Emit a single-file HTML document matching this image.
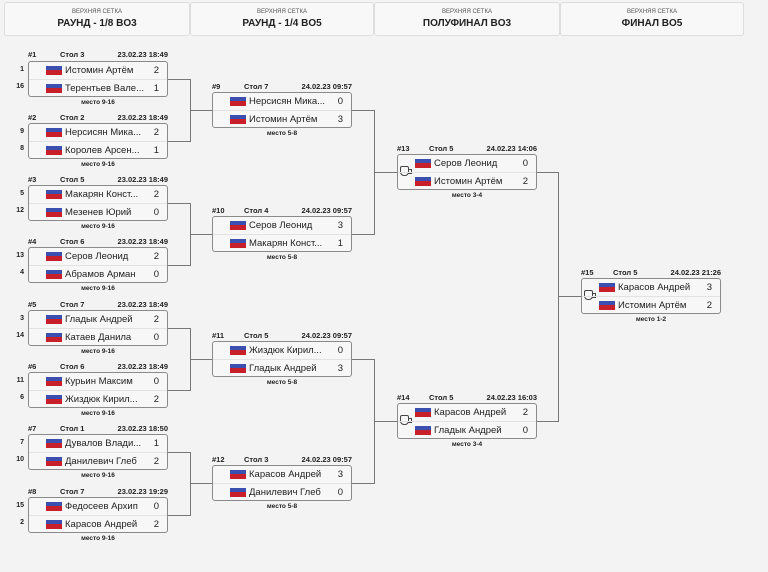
<!DOCTYPE html><html><head><meta charset="utf-8"><style>
body{margin:0;width:768px;height:572px;background:#f3f3f3;font-family:"Liberation Sans",sans-serif;position:relative;overflow:hidden;color:#222}
.col{position:absolute;top:2px;height:32px;background:#f8f8f8;border:1px solid #ddd;border-radius:3px;text-align:center}
.col .s{font-size:6px;color:#555;margin-top:6px}
.col .t{font-size:10px;font-weight:bold;margin-top:3px}
.hd{position:absolute;width:140px;height:10px;font-size:7.5px;font-weight:bold}
.hd span{position:absolute;top:0}
.bx{position:absolute;width:138px;height:34px;border:1px solid #8a8a8a;border-radius:3px;background:#f7f7f7}
.r{position:absolute;left:0;width:138px;height:17px;font-size:9.5px;line-height:17px}
.r i{position:absolute;left:17px;top:4px;width:16px;height:9px;background:linear-gradient(#3a4fb0 0 45%,#c8202a 45%)}
.r b{position:absolute;left:36px;font-weight:normal;white-space:nowrap}
.r u{position:absolute;right:8px;text-decoration:none}
.r2{top:17px;border-top:1px solid #e2e2e2}
.lb{position:absolute;width:140px;text-align:center;font-size:6.5px;font-weight:bold}
.sd{position:absolute;font-size:7px;font-weight:bold;width:14px;text-align:right}
.ln{position:absolute;background:#777}
.cup{position:absolute;left:2px;top:11px;width:9px;height:10px;border:1.5px solid #444;border-radius:2px 2px 4px 4px;box-sizing:border-box}
.cup:after{content:"";position:absolute;right:-4px;top:2px;width:3px;height:3px;border:1px solid #444;border-left:none}
</style></head><body>
<div class="col" style="left:4px;width:184px"><div class="s">ВЕРХНЯЯ СЕТКА</div><div class="t">РАУНД - 1/8 BO3</div></div>
<div class="col" style="left:190px;width:182px"><div class="s">ВЕРХНЯЯ СЕТКА</div><div class="t">РАУНД - 1/4 BO5</div></div>
<div class="col" style="left:374px;width:184px"><div class="s">ВЕРХНЯЯ СЕТКА</div><div class="t">ПОЛУФИНАЛ BO3</div></div>
<div class="col" style="left:560px;width:182px"><div class="s">ВЕРХНЯЯ СЕТКА</div><div class="t">ФИНАЛ BO5</div></div>

<!-- R1 -->
<div class="hd" style="left:28px;top:50px"><span style="left:0">#1</span><span style="left:32px">Стол 3</span><span style="right:0">23.02.23 18:49</span></div>
<div class="bx" style="left:28px;top:61px"><div class="r"><i></i><b>Истомин Артём</b><u>2</u></div><div class="r r2"><i></i><b>Терентьев Вале...</b><u>1</u></div></div>
<div class="lb" style="left:28px;top:99px">место 9-16</div>
<div class="sd" style="left:10px;top:66px">1</div><div class="sd" style="left:10px;top:83px">16</div>

<div class="hd" style="left:28px;top:113px"><span style="left:0">#2</span><span style="left:32px">Стол 2</span><span style="right:0">23.02.23 18:49</span></div>
<div class="bx" style="left:28px;top:123px"><div class="r"><i></i><b>Нерсисян Мика...</b><u>2</u></div><div class="r r2"><i></i><b>Королев Арсен...</b><u>1</u></div></div>
<div class="lb" style="left:28px;top:161px">место 9-16</div>
<div class="sd" style="left:10px;top:128px">9</div><div class="sd" style="left:10px;top:145px">8</div>

<div class="hd" style="left:28px;top:175px"><span style="left:0">#3</span><span style="left:32px">Стол 5</span><span style="right:0">23.02.23 18:49</span></div>
<div class="bx" style="left:28px;top:185px"><div class="r"><i></i><b>Макарян Конст...</b><u>2</u></div><div class="r r2"><i></i><b>Мезенев Юрий</b><u>0</u></div></div>
<div class="lb" style="left:28px;top:223px">место 9-16</div>
<div class="sd" style="left:10px;top:190px">5</div><div class="sd" style="left:10px;top:207px">12</div>

<div class="hd" style="left:28px;top:237px"><span style="left:0">#4</span><span style="left:32px">Стол 6</span><span style="right:0">23.02.23 18:49</span></div>
<div class="bx" style="left:28px;top:247px"><div class="r"><i></i><b>Серов Леонид</b><u>2</u></div><div class="r r2"><i></i><b>Абрамов Арман</b><u>0</u></div></div>
<div class="lb" style="left:28px;top:285px">место 9-16</div>
<div class="sd" style="left:10px;top:252px">13</div><div class="sd" style="left:10px;top:269px">4</div>

<div class="hd" style="left:28px;top:300px"><span style="left:0">#5</span><span style="left:32px">Стол 7</span><span style="right:0">23.02.23 18:49</span></div>
<div class="bx" style="left:28px;top:310px"><div class="r"><i></i><b>Гладык Андрей</b><u>2</u></div><div class="r r2"><i></i><b>Катаев Данила</b><u>0</u></div></div>
<div class="lb" style="left:28px;top:348px">место 9-16</div>
<div class="sd" style="left:10px;top:315px">3</div><div class="sd" style="left:10px;top:332px">14</div>

<div class="hd" style="left:28px;top:362px"><span style="left:0">#6</span><span style="left:32px">Стол 6</span><span style="right:0">23.02.23 18:49</span></div>
<div class="bx" style="left:28px;top:372px"><div class="r"><i></i><b>Курьин Максим</b><u>0</u></div><div class="r r2"><i></i><b>Жиздюк Кирил...</b><u>2</u></div></div>
<div class="lb" style="left:28px;top:410px">место 9-16</div>
<div class="sd" style="left:10px;top:377px">11</div><div class="sd" style="left:10px;top:394px">6</div>

<div class="hd" style="left:28px;top:424px"><span style="left:0">#7</span><span style="left:32px">Стол 1</span><span style="right:0">23.02.23 18:50</span></div>
<div class="bx" style="left:28px;top:434px"><div class="r"><i></i><b>Дувалов Влади...</b><u>1</u></div><div class="r r2"><i></i><b>Данилевич Глеб</b><u>2</u></div></div>
<div class="lb" style="left:28px;top:472px">место 9-16</div>
<div class="sd" style="left:10px;top:439px">7</div><div class="sd" style="left:10px;top:456px">10</div>

<div class="hd" style="left:28px;top:487px"><span style="left:0">#8</span><span style="left:32px">Стол 7</span><span style="right:0">23.02.23 19:29</span></div>
<div class="bx" style="left:28px;top:497px"><div class="r"><i></i><b>Федосеев Архип</b><u>0</u></div><div class="r r2"><i></i><b>Карасов Андрей</b><u>2</u></div></div>
<div class="lb" style="left:28px;top:535px">место 9-16</div>
<div class="sd" style="left:10px;top:502px">15</div><div class="sd" style="left:10px;top:519px">2</div>

<!-- R2 -->
<div class="hd" style="left:212px;top:82px"><span style="left:0">#9</span><span style="left:32px">Стол 7</span><span style="right:0">24.02.23 09:57</span></div>
<div class="bx" style="left:212px;top:92px"><div class="r"><i></i><b>Нерсисян Мика...</b><u>0</u></div><div class="r r2"><i></i><b>Истомин Артём</b><u>3</u></div></div>
<div class="lb" style="left:212px;top:130px">место 5-8</div>

<div class="hd" style="left:212px;top:206px"><span style="left:0">#10</span><span style="left:32px">Стол 4</span><span style="right:0">24.02.23 09:57</span></div>
<div class="bx" style="left:212px;top:216px"><div class="r"><i></i><b>Серов Леонид</b><u>3</u></div><div class="r r2"><i></i><b>Макарян Конст...</b><u>1</u></div></div>
<div class="lb" style="left:212px;top:254px">место 5-8</div>

<div class="hd" style="left:212px;top:331px"><span style="left:0">#11</span><span style="left:32px">Стол 5</span><span style="right:0">24.02.23 09:57</span></div>
<div class="bx" style="left:212px;top:341px"><div class="r"><i></i><b>Жиздюк Кирил...</b><u>0</u></div><div class="r r2"><i></i><b>Гладык Андрей</b><u>3</u></div></div>
<div class="lb" style="left:212px;top:379px">место 5-8</div>

<div class="hd" style="left:212px;top:455px"><span style="left:0">#12</span><span style="left:32px">Стол 3</span><span style="right:0">24.02.23 09:57</span></div>
<div class="bx" style="left:212px;top:465px"><div class="r"><i></i><b>Карасов Андрей</b><u>3</u></div><div class="r r2"><i></i><b>Данилевич Глеб</b><u>0</u></div></div>
<div class="lb" style="left:212px;top:503px">место 5-8</div>

<!-- Semis -->
<div class="hd" style="left:397px;top:144px"><span style="left:0">#13</span><span style="left:32px">Стол 5</span><span style="right:0">24.02.23 14:06</span></div>
<div class="bx" style="left:397px;top:154px"><div class="cup"></div><div class="r"><i></i><b>Серов Леонид</b><u>0</u></div><div class="r r2"><i></i><b>Истомин Артём</b><u>2</u></div></div>
<div class="lb" style="left:397px;top:192px">место 3-4</div>

<div class="hd" style="left:397px;top:393px"><span style="left:0">#14</span><span style="left:32px">Стол 5</span><span style="right:0">24.02.23 16:03</span></div>
<div class="bx" style="left:397px;top:403px"><div class="cup"></div><div class="r"><i></i><b>Карасов Андрей</b><u>2</u></div><div class="r r2"><i></i><b>Гладык Андрей</b><u>0</u></div></div>
<div class="lb" style="left:397px;top:441px">место 3-4</div>

<!-- Final -->
<div class="hd" style="left:581px;top:268px"><span style="left:0">#15</span><span style="left:32px">Стол 5</span><span style="right:0">24.02.23 21:26</span></div>
<div class="bx" style="left:581px;top:278px"><div class="cup"></div><div class="r"><i></i><b>Карасов Андрей</b><u>3</u></div><div class="r r2"><i></i><b>Истомин Артём</b><u>2</u></div></div>
<div class="lb" style="left:581px;top:316px">место 1-2</div>

<!-- connectors R1->R2 -->
<div class="ln" style="left:168px;top:79px;width:22px;height:1px"></div>
<div class="ln" style="left:168px;top:141px;width:22px;height:1px"></div>
<div class="ln" style="left:190px;top:79px;width:1px;height:63px"></div>
<div class="ln" style="left:190px;top:110px;width:22px;height:1px"></div>

<div class="ln" style="left:168px;top:203px;width:22px;height:1px"></div>
<div class="ln" style="left:168px;top:265px;width:22px;height:1px"></div>
<div class="ln" style="left:190px;top:203px;width:1px;height:63px"></div>
<div class="ln" style="left:190px;top:234px;width:22px;height:1px"></div>

<div class="ln" style="left:168px;top:328px;width:22px;height:1px"></div>
<div class="ln" style="left:168px;top:390px;width:22px;height:1px"></div>
<div class="ln" style="left:190px;top:328px;width:1px;height:63px"></div>
<div class="ln" style="left:190px;top:359px;width:22px;height:1px"></div>

<div class="ln" style="left:168px;top:452px;width:22px;height:1px"></div>
<div class="ln" style="left:168px;top:515px;width:22px;height:1px"></div>
<div class="ln" style="left:190px;top:452px;width:1px;height:64px"></div>
<div class="ln" style="left:190px;top:483px;width:22px;height:1px"></div>

<!-- R2->Semis -->
<div class="ln" style="left:352px;top:110px;width:22px;height:1px"></div>
<div class="ln" style="left:352px;top:234px;width:22px;height:1px"></div>
<div class="ln" style="left:374px;top:110px;width:1px;height:125px"></div>
<div class="ln" style="left:374px;top:172px;width:23px;height:1px"></div>

<div class="ln" style="left:352px;top:359px;width:22px;height:1px"></div>
<div class="ln" style="left:352px;top:483px;width:22px;height:1px"></div>
<div class="ln" style="left:374px;top:359px;width:1px;height:125px"></div>
<div class="ln" style="left:374px;top:421px;width:23px;height:1px"></div>

<!-- Semis->Final -->
<div class="ln" style="left:537px;top:172px;width:21px;height:1px"></div>
<div class="ln" style="left:537px;top:421px;width:21px;height:1px"></div>
<div class="ln" style="left:558px;top:172px;width:1px;height:250px"></div>
<div class="ln" style="left:558px;top:296px;width:23px;height:1px"></div>
</body></html>
